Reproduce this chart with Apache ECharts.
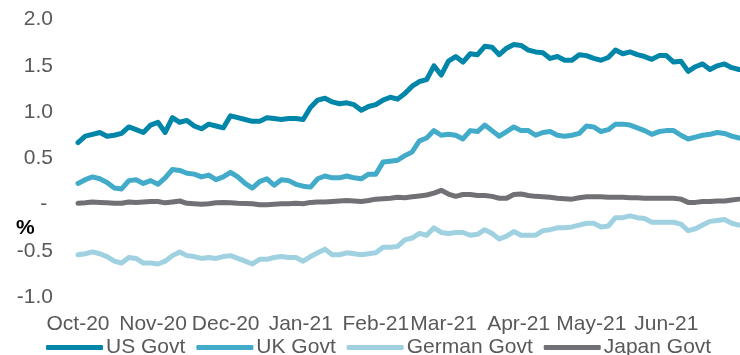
<!DOCTYPE html>
<html><head><meta charset="utf-8">
<script src="https://cdn.jsdelivr.net/npm/echarts@6/dist/echarts.min.js"></script>
<style>html,body{margin:0;padding:0;background:#fff}#c{width:740px;height:355px}</style>
</head><body><div id="c"></div>
<script>
const seriesNames = ['US Govt', 'UK Govt', 'German Govt', 'Japan Govt'];
const seriesColors = ['#0086a8', '#42abc9', '#9fd1e1', '#717175'];
const monthNames = ['Jan','Feb','Mar','Apr','May','Jun','Jul','Aug','Sep','Oct','Nov','Dec'];
const startDate = Date.UTC(2020, 9, 1);
const stepDays = 3;
const yTicks = [-1.0, -0.5, 0, 0.5, 1.0, 1.5, 2.0];

const usGovt = [0.67,0.74,0.76,0.78,0.74,0.75,0.77,0.84,0.81,0.78,0.86,0.89,0.78,0.94,0.89,0.91,0.85,0.82,0.87,0.85,
0.83,0.96,0.94,0.92,0.90,0.90,0.94,0.93,0.92,0.93,0.93,0.92,1.05,1.13,1.15,1.11,1.09,1.10,1.08,1.02,
1.06,1.08,1.13,1.16,1.14,1.20,1.28,1.33,1.35,1.50,1.40,1.55,1.60,1.54,1.63,1.62,1.71,1.70,1.62,1.69,
1.73,1.72,1.67,1.65,1.64,1.58,1.60,1.56,1.56,1.62,1.61,1.58,1.56,1.59,1.67,1.63,1.65,1.62,1.60,1.57,
1.61,1.61,1.54,1.55,1.44,1.49,1.52,1.46,1.50,1.52,1.48,1.46];

const ukGovt = [0.23,0.27,0.30,0.28,0.24,0.18,0.17,0.26,0.27,0.23,0.26,0.22,0.29,0.38,0.37,0.34,0.33,0.30,0.32,0.27,
0.30,0.35,0.30,0.23,0.18,0.25,0.28,0.21,0.27,0.26,0.22,0.20,0.19,0.28,0.31,0.29,0.29,0.31,0.29,0.28,
0.33,0.33,0.46,0.47,0.48,0.53,0.57,0.69,0.72,0.80,0.75,0.76,0.75,0.71,0.80,0.79,0.86,0.80,0.74,0.79,
0.84,0.80,0.80,0.75,0.78,0.79,0.75,0.74,0.75,0.77,0.85,0.84,0.79,0.81,0.87,0.87,0.86,0.83,0.80,0.76,
0.79,0.80,0.80,0.75,0.71,0.73,0.75,0.76,0.78,0.77,0.74,0.72];

const germanGovt = [-0.54,-0.53,-0.51,-0.53,-0.56,-0.61,-0.63,-0.57,-0.58,-0.63,-0.63,-0.64,-0.61,-0.55,-0.51,-0.55,-0.56,-0.58,-0.57,-0.58,
-0.56,-0.55,-0.58,-0.61,-0.64,-0.59,-0.59,-0.57,-0.56,-0.57,-0.57,-0.61,-0.56,-0.52,-0.48,-0.54,-0.54,-0.52,-0.53,-0.54,
-0.53,-0.52,-0.46,-0.46,-0.45,-0.38,-0.36,-0.31,-0.33,-0.25,-0.30,-0.31,-0.30,-0.30,-0.33,-0.32,-0.27,-0.31,-0.37,-0.34,
-0.29,-0.33,-0.33,-0.33,-0.28,-0.27,-0.25,-0.25,-0.24,-0.22,-0.20,-0.20,-0.24,-0.23,-0.14,-0.14,-0.12,-0.14,-0.15,-0.19,
-0.19,-0.19,-0.19,-0.21,-0.28,-0.26,-0.22,-0.18,-0.17,-0.16,-0.20,-0.22];

const japanGovt = [0.015,0.02,0.03,0.025,0.02,0.015,0.015,0.03,0.025,0.03,0.035,0.035,0.02,0.03,0.04,0.015,0.01,0.005,0.01,0.02,
0.025,0.02,0.015,0.012,0.01,0.0,0.0,0.005,0.01,0.01,0.015,0.01,0.025,0.03,0.03,0.035,0.04,0.045,0.04,0.035,
0.045,0.06,0.065,0.07,0.08,0.075,0.085,0.095,0.105,0.125,0.155,0.115,0.09,0.11,0.11,0.10,0.10,0.09,0.07,0.07,
0.11,0.115,0.10,0.09,0.085,0.08,0.07,0.065,0.06,0.075,0.085,0.085,0.085,0.08,0.08,0.08,0.075,0.075,0.07,0.07,
0.07,0.07,0.07,0.06,0.025,0.025,0.035,0.035,0.04,0.04,0.05,0.06];

const dates = usGovt.map((_, i) => startDate + i * stepDays * 86400000);
const allValues = [usGovt, ukGovt, germanGovt, japanGovt];
const lastDate = dates[dates.length - 1];

const chart = echarts.init(document.getElementById('c'), null, {renderer: 'canvas'});
const labelFont = {fontFamily: 'Liberation Sans, Arial, sans-serif', fontSize: 21, color: '#595959'};
chart.setOption({
  animation: false,
  useUTC: true,
  backgroundColor: '#ffffff',
  grid: {left: 78, right: 1, top: 19.5, bottom: 57.7, containLabel: false, outerBoundsMode: 'none'},
  xAxis: {
    type: 'time',
    min: dates[0],
    max: lastDate,
    splitNumber: 9,
    minInterval: 28 * 86400000,
    maxInterval: 31 * 86400000,
    axisLine: {show: false},
    axisTick: {show: false},
    splitLine: {show: false},
    axisLabel: Object.assign({}, labelFont, {
      margin: 16,
      hideOverlap: false,
      formatter: function (v) {
        if (v >= lastDate - 86400000) return '';
        const d = new Date(v);
        return monthNames[d.getUTCMonth()] + '-' + String(d.getUTCFullYear()).slice(2);
      }
    })
  },
  yAxis: {
    type: 'value',
    min: yTicks[0],
    max: yTicks[yTicks.length - 1],
    interval: 0.5,
    axisLine: {show: false},
    axisTick: {show: false},
    splitLine: {show: false},
    axisLabel: Object.assign({}, labelFont, {
      margin: 25,
      formatter: function (v) { return Math.abs(v) < 1e-9 ? '- ' : v.toFixed(1); }
    })
  },
  legend: {
    data: seriesNames,
    left: 46,
    top: 337,
    padding: 0,
    icon: 'roundRect',
    itemWidth: 57,
    itemHeight: 5,
    itemGap: 11,
    textStyle: {fontFamily: labelFont.fontFamily, fontSize: 21, color: '#595959', padding: [0, 0, 0, -2]}
  },
  graphic: [{
    type: 'text',
    left: 16,
    top: 218,
    style: {text: '%', font: 'bold 21px Liberation Sans, Arial, sans-serif', fill: '#000000'}
  }],
  series: seriesNames.map((name, k) => ({
    name: name,
    type: 'line',
    showSymbol: false,
    symbol: 'none',
    smooth: false,
    color: seriesColors[k],
    lineStyle: {width: 5, color: seriesColors[k], cap: 'round', join: 'round'},
    data: dates.map((d, i) => [d, allValues[k][i]])
  }))
});
</script></body></html>
